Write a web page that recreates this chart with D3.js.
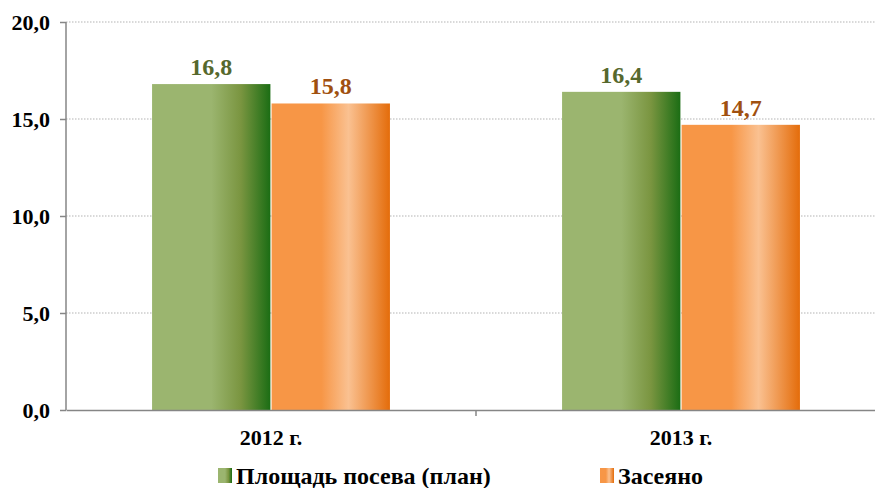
<!DOCTYPE html>
<html>
<head>
<meta charset="utf-8">
<script src="https://cdn.jsdelivr.net/npm/d3@7"></script>
<style>
  body { margin: 0; background: #fff; }
  svg text { font-family: "Liberation Serif", "Times New Roman", serif; font-weight: bold; }
</style>
</head>
<body>
<div id="chart"></div>
<script>
// chart data
var years = ["2012 г.", "2013 г."];
var seriesNames = ["Площадь посева (план)", "Засеяно"];
var planValues = [16.8, 16.4];
var sownValues = [15.8, 14.7];
var yTicks = [0, 5, 10, 15, 20];

var width = 875, height = 488;
var margin = {left: 66, right: -11, top: 22, bottom: 78};
var innerW = width - margin.left - margin.right;
var innerH = height - margin.top - margin.bottom;

var svg = d3.select("#chart").append("svg")
    .attr("width", width)
    .attr("height", height);

// gradients for bars
var defs = svg.append("defs");
var gGreen = defs.append("linearGradient").attr("id", "gradGreen");
[[0, "#9bb56f"], [0.5, "#9bb56f"], [0.75, "#7a9540"], [1, "#1b6d14"]].forEach(function(s) {
    gGreen.append("stop").attr("offset", s[0]).attr("stop-color", s[1]);
});
var gOrange = defs.append("linearGradient").attr("id", "gradOrange");
[[0, "#f79646"], [0.42, "#f79646"], [0.65, "#fac191"], [1, "#e46c0a"]].forEach(function(s) {
    gOrange.append("stop").attr("offset", s[0]).attr("stop-color", s[1]);
});

var fills = ["url(#gradGreen)", "url(#gradOrange)"];
var labelColors = ["#56682d", "#a0500f"];

var chart = svg.append("g")
    .attr("transform", "translate(" + margin.left + "," + margin.top + ")");

var x0 = d3.scaleBand().domain(years).range([0, innerW]).paddingInner(0).paddingOuter(0);
var x1 = d3.scaleBand().domain([0, 1]).range([0, x0.bandwidth()]).paddingInner(0.01).paddingOuter(0.72);
var y = d3.scaleLinear().domain([0, 20]).range([innerH, 0]);

// gridlines
chart.append("g").selectAll("line")
    .data(yTicks.filter(function(t) { return t > 0; }))
    .enter().append("line")
    .attr("x1", 0).attr("x2", innerW)
    .attr("y1", function(d) { return y(d); })
    .attr("y2", function(d) { return y(d); })
    .attr("stroke", "#b3b3b3")
    .attr("stroke-width", 1)
    .attr("stroke-dasharray", "1.5,1.5");

// bars
var rows = years.map(function(yr, i) {
    return {year: yr, vals: [planValues[i], sownValues[i]]};
});

var groups = chart.selectAll("g.grp")
    .data(rows).enter().append("g")
    .attr("class", "grp")
    .attr("transform", function(d) { return "translate(" + x0(d.year) + ",0)"; });

groups.selectAll("rect")
    .data(function(d) { return d.vals; })
    .enter().append("rect")
    .attr("x", function(d, i) { return x1(i); })
    .attr("y", function(d) { return y(d); })
    .attr("width", x1.bandwidth())
    .attr("height", function(d) { return innerH - y(d); })
    .attr("fill", function(d, i) { return fills[i]; });

groups.selectAll("text.val")
    .data(function(d) { return d.vals; })
    .enter().append("text")
    .attr("class", "val")
    .attr("x", function(d, i) { return x1(i) + x1.bandwidth() / 2; })
    .attr("y", function(d) { return y(d) - 9; })
    .attr("text-anchor", "middle")
    .style("font-size", "24px")
    .attr("fill", function(d, i) { return labelColors[i]; })
    .text(function(d) { return d.toFixed(1).replace(".", ","); });

// y axis
var fmt = function(d) { return d.toFixed(1).replace(".", ","); };
var yAxis = d3.axisLeft(y).tickValues(yTicks).tickFormat(fmt).tickSize(6).tickPadding(10);
var yg = chart.append("g").call(yAxis);
yg.select(".domain").attr("stroke", "#868686").attr("stroke-width", 1.5).attr("d", "M0," + innerH + "V0");
yg.selectAll(".tick line").attr("stroke", "#868686").attr("stroke-width", 1.5);
yg.selectAll(".tick text").style("font-size", "22px").attr("fill", "#000")
    .style("font-family", "Liberation Serif").style("font-weight", "bold");

// x axis
var xAxis = d3.axisBottom(x0).tickSize(0).tickPadding(19);
var xg = chart.append("g").attr("transform", "translate(0," + innerH + ")").call(xAxis);
xg.select(".domain").attr("stroke", "#868686").attr("stroke-width", 1.5);
xg.selectAll(".tick text").style("font-size", "22px").attr("fill", "#000")
    .style("font-family", "Liberation Serif").style("font-weight", "bold");
// separators between categories
xg.selectAll("line.sep")
    .data(years.slice(1))
    .enter().append("line")
    .attr("class", "sep")
    .attr("x1", function(d) { return x0(d); })
    .attr("x2", function(d) { return x0(d); })
    .attr("y1", 0).attr("y2", 6)
    .attr("stroke", "#868686").attr("stroke-width", 1.5);

// legend
var legendX = [218, 600];
var legend = svg.append("g").selectAll("g")
    .data(seriesNames).enter().append("g")
    .attr("transform", function(d, i) { return "translate(" + legendX[i] + ",468)"; });
legend.append("rect")
    .attr("width", 14).attr("height", 15)
    .attr("fill", function(d, i) { return fills[i]; });
legend.append("text")
    .attr("x", 18).attr("y", 16)
    .style("font-size", "24px")
    .attr("fill", "#000")
    .text(function(d) { return d; });
</script>
</body>
</html>
